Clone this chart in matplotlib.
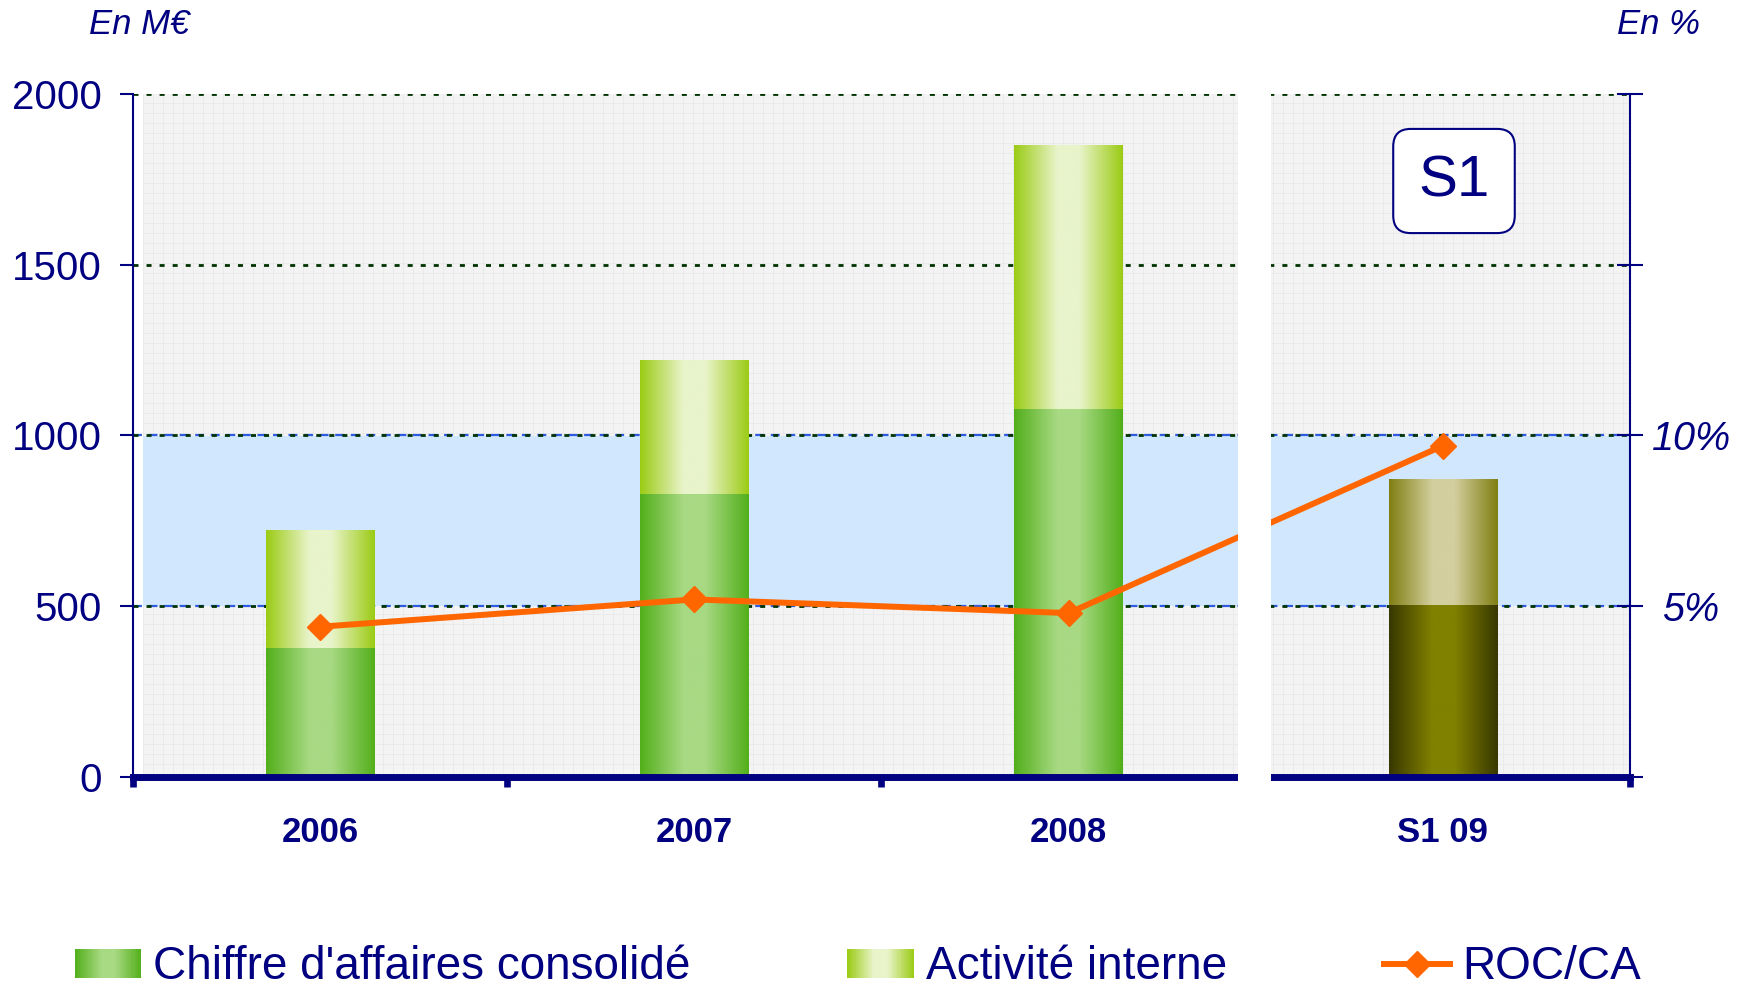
import numpy as np
import matplotlib
matplotlib.use('Agg')
import matplotlib.pyplot as plt
from matplotlib.colors import LinearSegmentedColormap
from matplotlib.patches import Rectangle, Patch
from matplotlib.lines import Line2D
from matplotlib.legend_handler import HandlerBase

plt.rcParams['font.family'] = ['Liberation Sans', 'DejaVu Sans']

# Data
periods = ['2006', '2007', '2008', 'S1 09']
ca_consolide = [378, 829, 1077, 503]        # M€
activite_interne = [344, 391, 773, 367]     # M€, stacked on top
roc_ca = [4.4, 5.2, 4.8, 9.7]               # %
left_ticks = [0, 500, 1000, 1500, 2000]
right_ticks = [0, 5, 10, 15, 20]
right_labels = ['', '5%', '10%', '', '']
band = [500, 1000]                          # highlighted 5%-10% zone

NAVY = '#000080'
ORANGE = '#FF6600'

# gradient colours (edge, centre) per series, last bar (S1 09) is olive
ca_grad = [('#52AF1A', '#A8D983')] * 3 + [('#383800', '#818100')]
int_grad = [('#9BCB14', '#E9F4CB')] * 3 + [('#7F7F12', '#D3CF9E')]


def make_cmap(edge, center):
    return LinearSegmentedColormap.from_list(
        'g', [(0, edge), (0.4, center), (0.6, center), (1, edge)])


def fill_gradient(ax, patch, edge, center):
    x0, y0 = patch.get_x(), patch.get_y()
    w, h = patch.get_width(), patch.get_height()
    grad = np.linspace(0, 1, 256)[None, :]
    ax.imshow(grad, cmap=make_cmap(edge, center), extent=(x0, x0 + w, y0, y0 + h),
              aspect='auto', interpolation='bicubic', zorder=2)


class GradientHandler(HandlerBase):
    def __init__(self, edge, center):
        super().__init__()
        self.cmap = make_cmap(edge, center)

    def create_artists(self, legend, orig_handle, xdescent, ydescent,
                       width, height, fontsize, trans):
        n = 40
        arts = []
        for i in range(n):
            arts.append(Rectangle((-xdescent + width * i / n, -ydescent), width / n * 1.05, height,
                                  facecolor=self.cmap((i + 0.5) / n), edgecolor='none',
                                  transform=trans))
        return arts


fig = plt.figure(figsize=(17.49, 9.86), dpi=100)
ax = fig.add_axes([133 / 1749, 1 - 777 / 986, 1497 / 1749, 683 / 986])
ax.set_facecolor('white')

# background texture (light grey squares), leaving a small white margin on the left
tex = np.full((683, 1487, 3), 0xF3 / 255)
tex[::10, :, :] = 0xEA / 255
tex[:, ::10, :] = 0xEA / 255
ax.imshow(tex, extent=(10 / 1497, 1, 0, 1), transform=ax.transAxes,
          aspect='auto', interpolation='nearest', zorder=0.1)

ax.axhspan(band[0], band[1], xmin=10 / 1497, xmax=1, color='#D1E7FD', lw=0, zorder=0.2)
for y in band:
    ax.axhline(y, color='#2E5BE0', lw=1.6, ls=(0, (4, 3)), zorder=0.3)

x = np.arange(len(periods))
bw = 0.29
bars_ca = ax.bar(x, ca_consolide, bw, color='none', lw=0, zorder=2)
bars_int = ax.bar(x, activite_interne, bw, bottom=ca_consolide, color='none', lw=0, zorder=2)
for p, (e, c) in zip(bars_ca, ca_grad):
    fill_gradient(ax, p, e, c)
for p, (e, c) in zip(bars_int, int_grad):
    fill_gradient(ax, p, e, c)

ax.set_xlim(-0.5, len(periods) - 0.5)
ax.set_ylim(left_ticks[0], left_ticks[-1])
ax.set_yticks(left_ticks)
ax.set_axisbelow(True)
ax.yaxis.grid(True, color='#003300', lw=2, ls=(0, (1.8, 2.9)))

# x axis: boundary ticks (major) and category labels (minor)
ax.set_xticks(np.arange(-0.5, len(periods), 1.0))
ax.set_xticklabels([])
ax.set_xticks(x, periods, minor=True)
ax.tick_params(axis='x', which='major', direction='out', length=7, width=4.8, color=NAVY)
ax.tick_params(axis='x', which='minor', length=0, pad=28, labelsize=25, labelcolor=NAVY)
for lbl in ax.get_xticklabels(minor=True):
    lbl.set_fontweight('bold')
ax.tick_params(axis='y', direction='out', length=9.5, width=1.5, color=NAVY,
               labelsize=29, labelcolor=NAVY, pad=13)

for s in ['top', 'right']:
    ax.spines[s].set_visible(False)
ax.spines['left'].set_color(NAVY)
ax.spines['left'].set_linewidth(1.5)
ax.spines['bottom'].set_color(NAVY)
ax.spines['bottom'].set_linewidth(5)

# right axis: ROC/CA
ax2 = ax.twinx()
ax2.plot(x, roc_ca, color=ORANGE, lw=4.3, marker='D', ms=13.5, zorder=5)
ax2.set_ylim(right_ticks[0], right_ticks[-1])
ax2.set_yticks(right_ticks, right_labels)
ax2.tick_params(axis='y', direction='inout', length=19, width=1.5, color=NAVY,
                labelsize=28.5, labelcolor=NAVY, pad=34.5)
for lbl in ax2.get_yticklabels():
    lbl.set_fontstyle('italic')
    lbl.set_horizontalalignment('center')
for s in ['top', 'left', 'bottom']:
    ax2.spines[s].set_visible(False)
ax2.spines['right'].set_color(NAVY)
ax2.spines['right'].set_linewidth(1.5)

# white break between the yearly and half-year panels
ax2.add_patch(Rectangle((0.738, -0.018), 0.022, 1.03, transform=ax2.transAxes,
                        facecolor='white', edgecolor='none', clip_on=False, zorder=10))

fig.text(1454 / 1749, 1 - 181 / 986, 'S1', fontsize=42, color=NAVY, ha='center', va='center',
         bbox=dict(boxstyle='round,pad=0.43,rounding_size=0.3', fc='white', ec=NAVY, lw=1.5))

fig.text(89 / 1749, 1 - 25 / 986, 'En M€', fontsize=25, style='italic', color=NAVY,
         ha='left', va='center')
fig.text(1700 / 1749, 1 - 25 / 986, 'En %', fontsize=25, style='italic', color=NAVY,
         ha='right', va='center')

h_ca = Patch()
h_int = Patch()
h_roc = Line2D([], [], color=ORANGE, lw=4.3, marker='D', ms=13.5)
fig.legend([h_ca, h_int, h_roc], ["Chiffre d'affaires consolidé", 'Activité interne', 'ROC/CA'],
           handler_map={h_ca: GradientHandler(*ca_grad[0]), h_int: GradientHandler(*int_grad[0])},
           ncol=3, loc='center', bbox_to_anchor=(0.4905, 0.019), frameon=False, fontsize=33,
           labelcolor=NAVY, handlelength=1.45, handleheight=0.6, handletextpad=0.26,
           columnspacing=3.42, borderpad=0.1)

fig.savefig('out.png', dpi=100)
